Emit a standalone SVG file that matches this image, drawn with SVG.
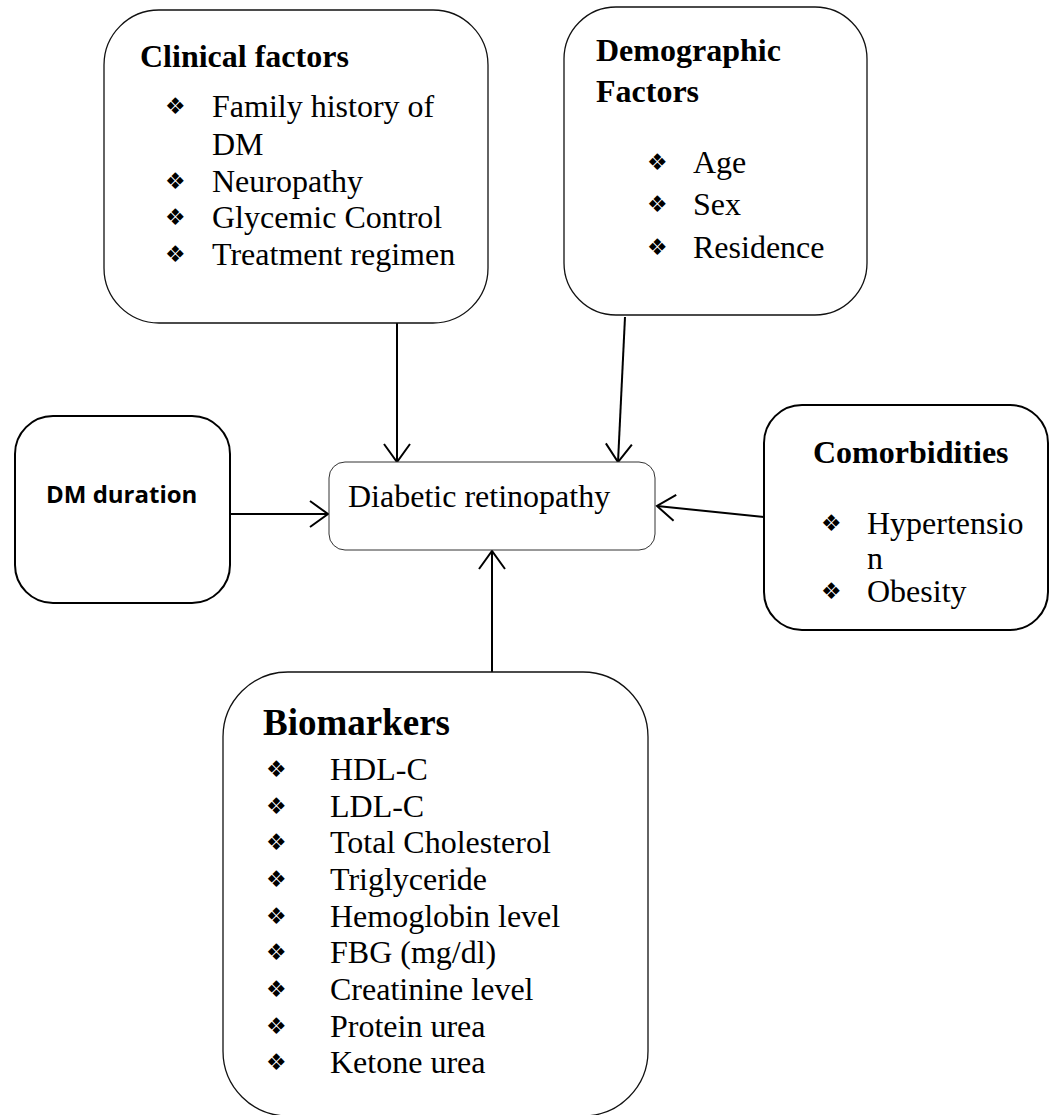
<svg xmlns="http://www.w3.org/2000/svg" width="1053" height="1115" viewBox="0 0 1053 1115">
<style>
.box{fill:#fff;stroke:#111;stroke-width:1.3}
.boxb{fill:#fff;stroke:#000;stroke-width:2}
.boxt{fill:#fff;stroke:#333;stroke-width:1}
.t{font-family:"Liberation Serif","Times New Roman",serif;font-size:32px;fill:#000}
.h{font-family:"Liberation Serif","Times New Roman",serif;font-size:32px;font-weight:bold;fill:#000}
.bul{font-family:"DejaVu Sans",sans-serif;font-size:23px;fill:#000}
.s{font-family:"Open Sans","Liberation Sans",sans-serif;font-size:24px;font-weight:bold;fill:#000}
.c{stroke:#000;stroke-width:2;fill:none;marker-end:url(#arr)}
</style>
<defs>
<marker id="arr" markerUnits="userSpaceOnUse" viewBox="-22 -15 26 30" markerWidth="26" markerHeight="30" refX="0" refY="0" orient="auto" overflow="visible">
<path d="M-18,-13 L0,0 L-18,13" fill="none" stroke="#000" stroke-width="2"/>
</marker>
</defs>
<rect width="1053" height="1115" fill="#fff"/>

<g id="connectors">
<line class="c" x1="397" y1="323" x2="397" y2="462"/>
<line class="c" x1="625" y1="317" x2="618" y2="462"/>
<line class="c" x1="230" y1="514" x2="328" y2="514"/>
<line class="c" x1="764" y1="517" x2="657" y2="506"/>
<line class="c" x1="492" y1="672" x2="492" y2="551"/>
</g>

<g id="clinical">
<rect class="box" x="104" y="10" width="384" height="313" rx="55" ry="55"/>
<text class="h" x="140" y="67">Clinical factors</text>
<text class="bul" x="165" y="114">❖</text><text class="t" x="212" y="117">Family history of</text>
<text class="t" x="212" y="155">DM</text>
<text class="bul" x="165" y="189">❖</text><text class="t" x="212" y="192">Neuropathy</text>
<text class="bul" x="165" y="225">❖</text><text class="t" x="212" y="228">Glycemic Control</text>
<text class="bul" x="165" y="262">❖</text><text class="t" x="212" y="265">Treatment regimen</text>
</g>

<g id="demographic">
<rect class="box" x="564" y="7" width="303" height="308" rx="52" ry="52"/>
<text class="h" x="596" y="61">Demographic</text>
<text class="h" x="596" y="102">Factors</text>
<text class="bul" x="647" y="170">❖</text><text class="t" x="693" y="173">Age</text>
<text class="bul" x="647" y="212">❖</text><text class="t" x="693" y="215">Sex</text>
<text class="bul" x="647" y="255">❖</text><text class="t" x="693" y="258">Residence</text>
</g>

<g id="dm-duration">
<rect class="boxb" x="15" y="416" width="215" height="187" rx="38" ry="38"/>
<text class="s" x="46" y="503">DM duration</text>
</g>

<g id="diabetic-retinopathy">
<rect class="boxt" x="329" y="462" width="326" height="88" rx="16" ry="16"/>
<text class="t" x="348" y="507">Diabetic retinopathy</text>
</g>

<g id="comorbidities">
<rect class="boxb" x="764" y="405" width="284" height="225" rx="38" ry="38"/>
<text class="h" x="813" y="463">Comorbidities</text>
<text class="bul" x="821" y="531">❖</text><text class="t" x="867" y="534">Hypertensio</text>
<text class="t" x="867" y="569">n</text>
<text class="bul" x="821" y="599">❖</text><text class="t" x="867" y="602">Obesity</text>
</g>

<g id="biomarkers">
<rect class="box" x="223" y="672" width="425" height="444" rx="65" ry="65"/>
<text class="h" x="263" y="735" style="font-size:37px">Biomarkers</text>
<text class="bul" x="266" y="777">❖</text><text class="t" x="330" y="780">HDL-C</text>
<text class="bul" x="266" y="814">❖</text><text class="t" x="330" y="817">LDL-C</text>
<text class="bul" x="266" y="850">❖</text><text class="t" x="330" y="853">Total Cholesterol</text>
<text class="bul" x="266" y="887">❖</text><text class="t" x="330" y="890">Triglyceride</text>
<text class="bul" x="266" y="924">❖</text><text class="t" x="330" y="927">Hemoglobin level</text>
<text class="bul" x="266" y="960">❖</text><text class="t" x="330" y="963">FBG (mg/dl)</text>
<text class="bul" x="266" y="997">❖</text><text class="t" x="330" y="1000">Creatinine level</text>
<text class="bul" x="266" y="1034">❖</text><text class="t" x="330" y="1037">Protein urea</text>
<text class="bul" x="266" y="1070">❖</text><text class="t" x="330" y="1073">Ketone urea</text>
</g>
</svg>
